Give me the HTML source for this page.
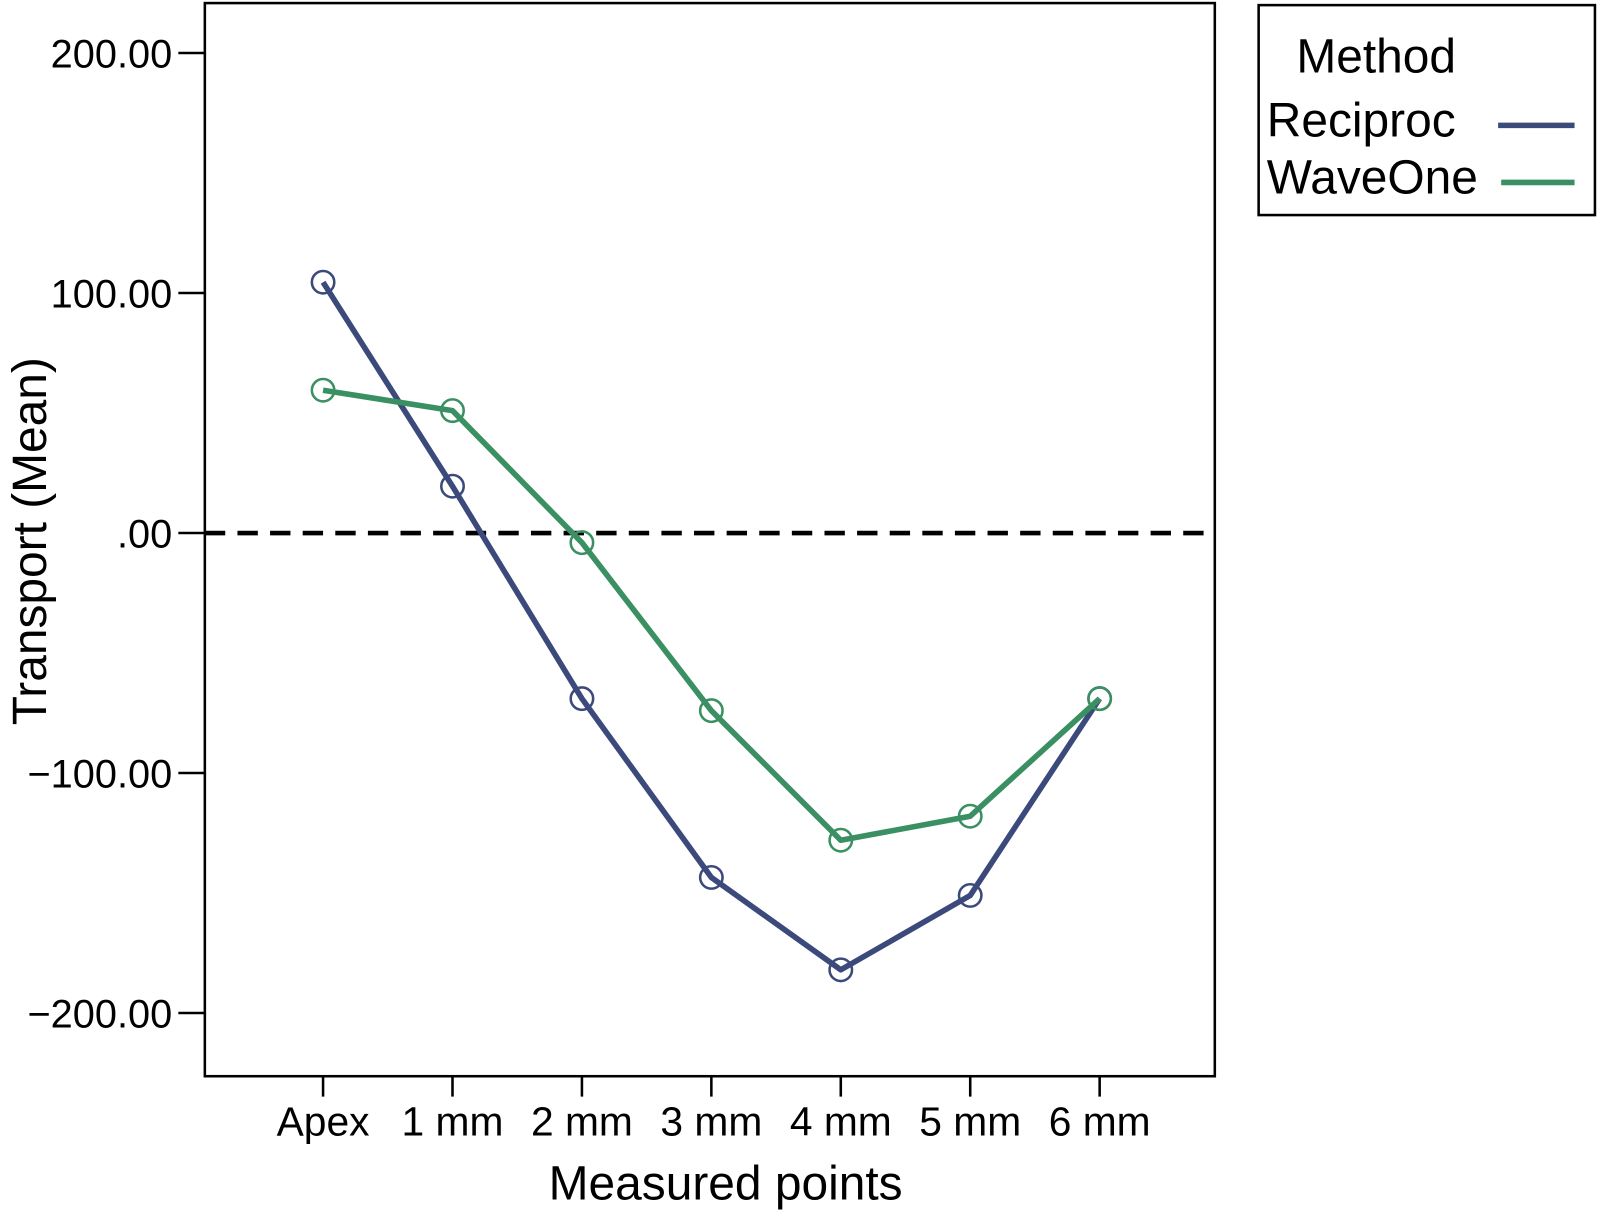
<!DOCTYPE html>
<html><head><meta charset="utf-8"><style>
html,body{margin:0;padding:0;background:#fff;width:1598px;height:1223px;overflow:hidden}
text{font-family:"Liberation Sans",Arial,sans-serif;fill:#000}
</style></head><body>
<svg id="chart" width="1598" height="1223" viewBox="0 0 1568 1200" xmlns="http://www.w3.org/2000/svg">
<rect x="201" y="3" width="991" height="1053" fill="none" stroke="#000" stroke-width="2.5"/>
<g id="yaxis"></g>
<g id="xaxis"></g>
<line x1="201" y1="523" x2="1192" y2="523" stroke="#000" stroke-width="4.5" stroke-dasharray="20,12"/>
<g id="series"></g>
<text transform="translate(45,531) rotate(-90)" text-anchor="middle" font-size="47">Transport (Mean)</text>
<text x="712" y="1177" text-anchor="middle" font-size="47">Measured points</text>
<g>
<rect x="1235" y="5" width="330" height="206" fill="none" stroke="#000" stroke-width="2.5"/>
<text x="1272" y="71" font-size="47">Method</text>
<text x="1243" y="134" font-size="47">Reciproc</text>
<line x1="1470" y1="123" x2="1545" y2="123" stroke="#3b4a7b" stroke-width="5.5"/>
<text x="1243" y="190" font-size="47">WaveOne</text>
<line x1="1473" y1="179" x2="1545" y2="179" stroke="#3a9062" stroke-width="5.5"/>
</g>
</svg>
<script>
const categories = ["Apex","1 mm","2 mm","3 mm","4 mm","5 mm","6 mm"];
const reciproc = [104.5, 19.5, -69, -143.5, -182, -151, -69];
const waveone = [59.5, 51, -4, -74, -128, -118, -69];
const yTicks = [200, 100, 0, -100, -200];
const yTickLabels = ["200.00","100.00",".00","\u2212100.00","\u2212200.00"];

const NS = "http://www.w3.org/2000/svg";
function y(v){ return 523 - v * 2.355; }
function x(i){ return 317 + i * 127; }
function mk(tag, attrs, parent){ const e = document.createElementNS(NS, tag); for (const k in attrs) e.setAttribute(k, attrs[k]); parent.appendChild(e); return e; }

const ya = document.getElementById('yaxis');
yTicks.forEach((t, i) => {
  const l = mk('line', {x1:175, x2:201, y1:y(t), y2:y(t), stroke:'#000', 'stroke-width':2.5}, ya);
  
  
  const tx = mk('text', {x:169, y:y(t)+14, 'text-anchor':'end', 'font-size':39}, ya);
  tx.textContent = yTickLabels[i];
  
  
});
const xa = document.getElementById('xaxis');
categories.forEach((c, i) => {
  const l = mk('line', {x1:x(i), x2:x(i), y1:1056, y2:1076, stroke:'#000', 'stroke-width':2.5}, xa);
  
  
  const tx = mk('text', {x:x(i), y:1114, 'text-anchor':'middle', 'font-size':40}, xa);
  tx.textContent = c;
  
  
});
const sg = document.getElementById('series');
function drawSeries(vals, color, name){
  const p = mk('polyline', {points: vals.map((v,i)=>x(i)+','+y(v)).join(' '), fill:'none', stroke:color, 'stroke-width':5.5, 'stroke-linejoin':'round'}, sg);
  
  
  vals.forEach((v,i) => {
    const c = mk('circle', {cx:x(i), cy:y(v), r:11, fill:'none', stroke:color, 'stroke-width':2.5}, sg);
    
    
  });
}
drawSeries(reciproc, '#3b4a7b', 'reciproc');
drawSeries(waveone, '#3a9062', 'waveone');
</script>
</body></html>
